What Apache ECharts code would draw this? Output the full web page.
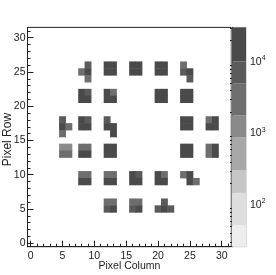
<!DOCTYPE html>
<html><head><meta charset="utf-8">
<script src="https://cdn.jsdelivr.net/npm/echarts@6/dist/echarts.min.js"></script>
<style>html,body{margin:0;padding:0;background:#fff}#c{width:276px;height:275px}</style>
</head><body><div id="c"></div>
<script>
// ---- data ----
const axisCategories = ['0','1','2','3','4','5','6','7','8','9','10','11','12','13','14','15',
  '16','17','18','19','20','21','22','23','24','25','26','27','28','29','30','31'];
const majorTickValues = [0, 5, 10, 15, 20, 25, 30];

const pixelCols = [
  9, 8, 9, 9,   12, 13, 12, 13,   16, 17, 16, 17,   20, 21, 20, 21,   24, 24, 25, 25,
  8, 9, 8, 9,   12, 13, 12, 13,   20, 21, 20, 21,   24, 25, 24, 25,
  5, 5, 5, 6,   8, 9, 8, 9,   12, 12, 13, 13,   24, 25, 24, 25,   28, 29, 28, 29,
  5, 6, 5, 6,   8, 9, 8, 9,   12, 13, 12, 13,   24, 25, 24, 25,   28, 29, 28, 29,
  8, 9, 8, 9,   12, 13, 12, 13,   16, 17, 16, 17,   20, 21, 20, 21,   24, 25, 25, 26,
  12, 13, 12, 13,   16, 17, 16, 17,   21, 20, 21, 22
];
const pixelRows = [
  26, 25, 25, 24,   26, 26, 25, 25,   26, 26, 25, 25,   26, 26, 25, 25,   26, 25, 25, 24,
  22, 22, 21, 21,   22, 22, 21, 21,   22, 22, 21, 21,   22, 22, 21, 21,
  18, 17, 16, 17,   18, 18, 17, 17,   18, 17, 17, 16,   18, 18, 17, 17,   18, 18, 17, 17,
  14, 14, 13, 13,   14, 14, 13, 13,   14, 14, 13, 13,   14, 14, 13, 13,   14, 14, 13, 13,
  10, 10, 9, 9,   10, 10, 9, 9,   10, 10, 9, 9,   10, 10, 9, 9,   10, 10, 9, 9,
  6, 6, 5, 5,   6, 6, 5, 5,   6, 5, 5, 5
];
const hitCounts = [
  7000, 3000, 15000, 3000,   16000, 15000, 14000, 17000,   13000, 12000, 14000, 12500,   14000, 15000, 16000, 14000,   3000, 6500, 15000, 7000,
  15000, 7000, 14000, 15000,   14000, 3000, 15000, 14000,   15000, 14000, 16000, 15000,   14000, 15000, 15000, 16000,
  7000, 15000, 3000, 3000,   15000, 7000, 14000, 15000,   7000, 15000, 15000, 14000,   15000, 14000, 16000, 15000,   3000, 15000, 14000, 15000,
  1300, 1200, 2500, 2000,   3000, 3000, 15000, 14000,   15000, 16000, 14000, 15000,   15000, 14000, 15000, 16000,   3000, 15000, 3000, 14000,
  3000, 3000, 14000, 15000,   3000, 3000, 14000, 15000,   15000, 7000, 14000, 15000,   15000, 3000, 14000, 15000,   3000, 15000, 14000, 3000,
  3000, 3000, 7000, 15000,   3000, 3000, 7000, 15000,   7000, 7000, 15000, 7000
];

// colour-scale (z) levels
const zEdges = [26, 52, 147, 308, 890, 1800, 5050, 10200, 30500];
const zDecades = [100, 1000, 10000];
const zMinorTicks = [30, 40, 50, 60, 70, 80, 90, 200, 300, 400, 500, 600, 700, 800, 900,
  2000, 3000, 4000, 5000, 6000, 7000, 8000, 9000, 20000, 30000];

// ---- style ----
const greys = ['#eeeeee', '#dedede', '#c6c6c6', '#a8a8a8', '#8a8a8a', '#6e6e6e', '#5a5a5a', '#4a4a4a'];
const FONT = '"Liberation Sans", Arial, Helvetica, sans-serif';
const INK = '#222';
const FS = 10.5;
const gridMain = { left: 27.5, right: 44.7, top: 27.4, bottom: 28.3 };

const heatData = pixelCols.map((c, i) => [c, pixelRows[i], hitCounts[i]]);
const barData = zEdges.slice(0, -1).map((lo, i) => [Math.log10(lo), Math.log10(zEdges[i + 1]), i]);
const isMajor = (i) => majorTickValues.indexOf(i) >= 0;

function catAxis(dim, major, extra) {
  return Object.assign({
    type: 'category', data: axisCategories, gridIndex: 0,
    boundaryGap: true,
    nameMoveOverlap: false,
    axisLine: { show: true, lineStyle: { color: INK, width: 1 } },
    axisTick: {
      show: true, inside: true, alignWithLabel: true,
      length: major ? 6 : 3,
      interval: major ? ((i) => isMajor(i)) : 0,
      lineStyle: { color: INK, width: 1 }
    },
    axisLabel: {
      show: major, interval: (i) => isMajor(i),
      color: INK, fontFamily: FONT, fontSize: FS, margin: dim === 'x' ? 4 : 2
    },
    splitLine: { show: false }, splitArea: { show: false },
    axisPointer: { show: false }
  }, extra || {});
}

const option = {
  animation: false,
  backgroundColor: '#fff',
  textStyle: { fontFamily: FONT },
  grid: [
    Object.assign({ show: true, borderColor: INK, borderWidth: 1, containLabel: false, outerBoundsMode: 'none' }, gridMain),
    { left: 232, right: 30, top: gridMain.top, bottom: gridMain.bottom, show: true, borderColor: '#b8b8b8', borderWidth: 1, containLabel: false, outerBoundsMode: 'none' }
  ],
  xAxis: [
    catAxis('x', false, { position: 'bottom' }),
    catAxis('x', true, {
      position: 'bottom', name: 'Pixel Column', nameLocation: 'middle', nameGap: 14,
      nameTextStyle: { color: INK, fontFamily: FONT, fontSize: FS }
    }),
    { type: 'value', gridIndex: 1, min: 0, max: 1, show: false }
  ],
  yAxis: [
    catAxis('y', false, { position: 'left' }),
    catAxis('y', true, {
      position: 'left', name: 'Pixel Row', nameLocation: 'middle', nameGap: 13.5, nameRotate: 90,
      nameTextStyle: { color: INK, fontFamily: FONT, fontSize: 12, padding: [0, 5, 0, 0] }
    }),
    {
      type: 'value', gridIndex: 1, position: 'right',
      min: Math.log10(zEdges[0]), max: Math.log10(zEdges[zEdges.length - 1]),
      axisLine: { show: true, lineStyle: { color: INK } },
      axisTick: { show: true, inside: true, length: 2, customValues: zMinorTicks.map(Math.log10), lineStyle: { color: INK } },
      axisLabel: { show: false },
      splitLine: { show: false }
    },
    {
      type: 'value', gridIndex: 1, position: 'right',
      min: Math.log10(zEdges[0]), max: Math.log10(zEdges[zEdges.length - 1]),
      axisLine: { show: false },
      axisTick: { show: true, inside: true, length: 5, customValues: zDecades.map(Math.log10), lineStyle: { color: INK } },
      axisLabel: {
        show: true, customValues: zDecades.map(Math.log10), margin: 4,
        formatter: (v) => '{b|10}{s|' + Math.round(v) + '}',
        rich: {
          b: { fontFamily: FONT, fontSize: FS, color: INK },
          s: { fontFamily: FONT, fontSize: 7, color: INK, padding: [0, 0, 7, 0] }
        }
      },
      splitLine: { show: false }
    }
  ],
  visualMap: {
    type: 'piecewise', show: false, seriesIndex: 0, dimension: 2,
    pieces: zEdges.slice(0, -1).map((lo, i) => ({ gte: lo, lt: zEdges[i + 1], color: greys[i] }))
  },
  series: [
    {
      type: 'heatmap', xAxisIndex: 0, yAxisIndex: 0, data: heatData,
      itemStyle: { borderWidth: 0 }, emphasis: { disabled: true }, progressive: 0
    },
    {
      type: 'custom', xAxisIndex: 2, yAxisIndex: 2, data: barData, silent: true,
      encode: { y: [0, 1] },
      renderItem: (params, api) => {
        const p0 = api.coord([0, api.value(1)]);
        const p1 = api.coord([1, api.value(0)]);
        return {
          type: 'rect',
          shape: { x: p0[0], y: p0[1], width: p1[0] - p0[0], height: p1[1] - p0[1] },
          style: { fill: greys[api.value(2)] }
        };
      }
    }
  ]
};

const chart = echarts.init(document.getElementById('c'), null, { renderer: 'canvas' });
chart.setOption(option);
</script>
</body></html>
